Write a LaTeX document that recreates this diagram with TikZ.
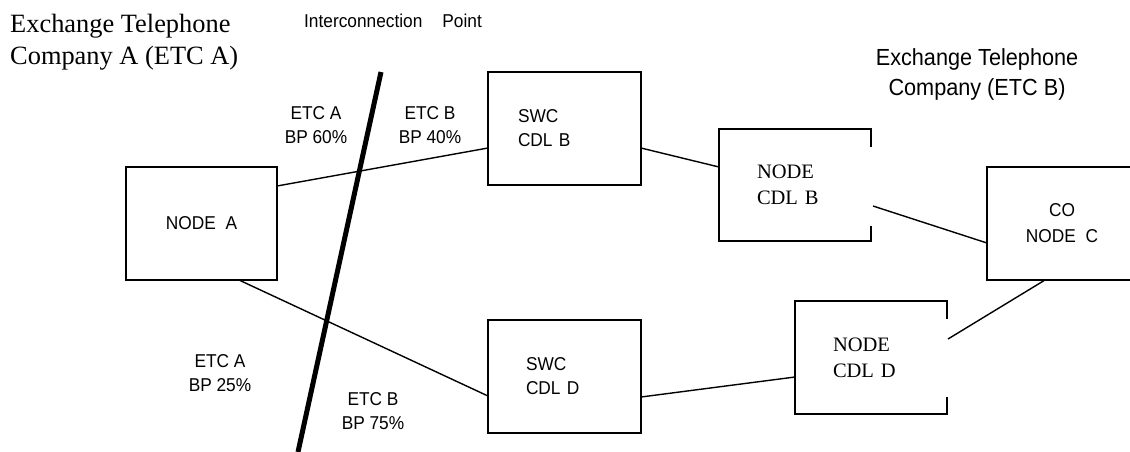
\documentclass[tikz,border=0pt]{standalone}
\usepackage{fontspec}
\setmainfont{Liberation Serif}
\setsansfont{Liberation Sans}
\newfontfamily\lsans[FakeStretch=0.93]{Liberation Sans}
\usetikzlibrary{calc}
\begin{document}
\begin{tikzpicture}[x=1pt,y=-1pt,
  box/.style={draw, line width=1.8pt, rectangle, inner sep=0pt, outer sep=0pt,
    font=\lsans\fontsize{18.6}{24}\selectfont},
  openbox/.style={rectangle, inner sep=0pt, outer sep=0pt},
  boxline/.style={line width=1.8pt},
  link/.style={line width=1.4pt},
  lbl/.style={inner sep=0pt, align=center, font=\lsans\fontsize{18.6}{24}\selectfont},
]
\useasboundingbox (0,0) rectangle (1130,451);
\coordinate (rimR) at (1130,0);

% boxes
\node[box, minimum width=151pt, minimum height=113pt] (nodeA) at (201.5,223.5) {NODE\ \ A};
\node[box, minimum width=153pt, minimum height=113pt, inner xsep=30pt, text width=93pt, align=left] (swcB) at (564.5,128.5) {SWC\\CDL B};
\node[box, minimum width=153pt, minimum height=113pt, inner xsep=38pt, text width=77pt, align=left] (swcD) at (564.5,376.5) {SWC\\CDL D};
\node[openbox, minimum width=152pt, minimum height=112pt, inner xsep=38pt, text width=76pt, align=left,
  font=\fontsize{20.5}{26}\selectfont] (cdlB) at (795,185) {NODE\\CDL B};
\node[openbox, minimum width=152pt, minimum height=113pt, inner xsep=38pt, text width=76pt, align=left,
  font=\fontsize{20.5}{26}\selectfont] (cdlD) at (871,357.5) {NODE\\CDL D};
\node[openbox, minimum width=150pt, minimum height=113pt, align=center,
  font=\lsans\fontsize{18.6}{26}\selectfont] (co) at (1062,223.5) {CO\\NODE\ \ C};

% open outlines
\draw[boxline] ([yshift=-18pt]cdlB.north east) -- (cdlB.north east) -- (cdlB.north west)
  -- (cdlB.south west) -- (cdlB.south east) -- ([yshift=15pt]cdlB.south east);
\draw[boxline] ([yshift=-18pt]cdlD.north east) -- (cdlD.north east) -- (cdlD.north west)
  -- (cdlD.south west) -- (cdlD.south east) -- ([yshift=17pt]cdlD.south east);
\draw[boxline] (co.north west -| rimR) -- (co.north west) -- (co.south west) -- (co.south west -| rimR);

% connectors
\draw[link] ([yshift=37.5pt]nodeA.east) -- ([yshift=-19.5pt]swcB.west);
\draw[link] ([xshift=37.5pt]nodeA.south) -- ([yshift=-19.5pt]swcD.west);
\draw[link] ([yshift=-19.5pt]swcB.east) -- ([yshift=18pt]cdlB.west);
\draw[link] ([yshift=-20.5pt]swcD.east) -- ([yshift=-19.5pt]cdlD.west);
\draw[link] ([xshift=2pt,yshift=-21pt]cdlB.east) -- ([yshift=-19.5pt]co.west);
\draw[link] ([xshift=1pt,yshift=18.5pt]cdlD.east) -- ([xshift=-17pt]co.south);

% interconnection point line
\coordinate (ipTop) at (381,72);
\coordinate (ipBot) at (298,452);
\draw[line width=5pt] (ipTop) -- (ipBot);

% labels
\node[lbl] (etcA1) at (316,125) {ETC A\\BP 60\%};
\node[lbl] (etcB1) at (430,125) {ETC B\\BP 40\%};
\node[lbl] (etcA2) at (220,373) {ETC A\\BP 25\%};
\node[lbl] (etcB2) at (373,411.5) {ETC B\\BP 75\%};
\node[lbl] (icp) at (393,21) {Interconnection\hspace{20pt}Point};

% titles
\node[inner sep=0pt, align=left, anchor=west, font=\fontsize{26.4}{32}\selectfont] (etcAtitle) at (10,42) {Exchange Telephone\\Company A (ETC A)};
\node[lbl, font=\lsans\fontsize{23.3}{30}\selectfont] (etcBtitle) at (977,74) {Exchange Telephone\\Company (ETC B)};
\end{tikzpicture}
\end{document}
